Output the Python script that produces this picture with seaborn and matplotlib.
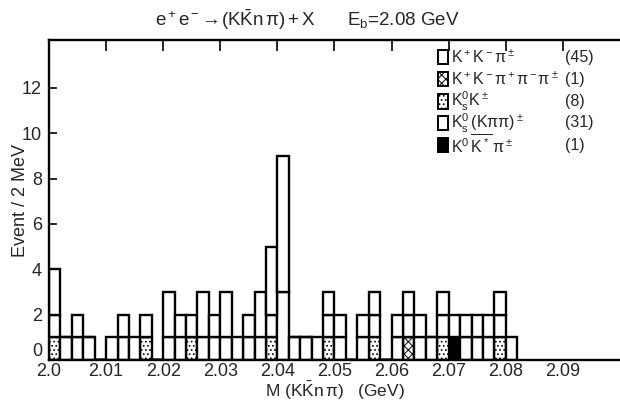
import numpy as np
import pandas as pd
import matplotlib
matplotlib.use('Agg')
import matplotlib.pyplot as plt
from matplotlib.patches import Rectangle
from matplotlib.colors import to_rgba
import seaborn as sns

# ─── Data (events per 2 MeV bin, bins start at 2.000 GeV) ─────────────────────
channels = ['kkpi', 'ks_kpipi', 'ks_k', 'kkpipipi', 'k0_k0star']
kkpi      = [2, 0, 1, 0, 0, 1, 1, 1, 1, 0, 2, 1, 1, 2, 1, 2, 1, 1, 2, 3, 6,
             0, 0, 1, 1, 1, 0, 1, 1, 0, 1, 1, 1, 0, 1, 1, 1, 1, 1, 1, 1]
ks_kpipi  = [1, 1, 1, 1, 0, 0, 1, 0, 0, 0, 1, 1, 0, 1, 1, 1, 0, 1, 1, 1, 3,
             1, 1, 0, 1, 1, 0, 1, 1, 0, 1, 1, 1, 1, 1, 0, 1, 1, 1, 1, 0]
ks_k      = [1, 0, 0, 0, 0, 0, 0, 0, 1, 0, 0, 0, 1, 0, 0, 0, 0, 0, 0, 1, 0,
             0, 0, 0, 1, 0, 0, 0, 1, 0, 0, 0, 0, 0, 1, 0, 0, 0, 0, 1, 0]
kkpipipi  = [0, 0, 0, 0, 0, 0, 0, 0, 0, 0, 0, 0, 0, 0, 0, 0, 0, 0, 0, 0, 0,
             0, 0, 0, 0, 0, 0, 0, 0, 0, 0, 1, 0, 0, 0, 0, 0, 0, 0, 0, 0]
k0_k0star = [0, 0, 0, 0, 0, 0, 0, 0, 0, 0, 0, 0, 0, 0, 0, 0, 0, 0, 0, 0, 0,
             0, 0, 0, 0, 0, 0, 0, 0, 0, 0, 0, 0, 0, 0, 1, 0, 0, 0, 0, 0]

legend_labels = [r'$K^+K^-\pi^\pm$',
                 r'$K^+K^-\pi^+\pi^-\pi^\pm$',
                 r'$K^0_sK^\pm$',
                 r'$K^0_s\,(K\pi\pi)^\pm$',
                 r'$K^0\,\overline{K^*}\,\pi^\pm$']
legend_counts = ['(45)', '(1)', '(8)', '(31)', '(1)']
legend_order = ['kkpi', 'kkpipipi', 'ks_k', 'ks_kpipi', 'k0_k0star']

xtick_vals = [2.00, 2.01, 2.02, 2.03, 2.04, 2.05, 2.06, 2.07, 2.08, 2.09]
xtick_labels = ['2.0', '2.01', '2.02', '2.03', '2.04', '2.05', '2.06', '2.07', '2.08', '2.09']
ytick_vals = [0, 2, 4, 6, 8, 10, 12]

# ─── Long table for seaborn ───────────────────────────────────────────────────
BIN = 0.002
series = {'kkpi': kkpi, 'ks_kpipi': ks_kpipi, 'ks_k': ks_k,
          'kkpipipi': kkpipipi, 'k0_k0star': k0_k0star}
rows = []
for ch in channels:
    for i, n in enumerate(series[ch]):
        rows.append({'mass': 2.0 + BIN * (i + 0.5), 'n': n, 'channel': ch})
df = pd.DataFrame(rows)

# ─── Style ────────────────────────────────────────────────────────────────────
sns.set_style('white')
plt.rcParams['font.family'] = ['Liberation Sans Narrow', 'Liberation Sans', 'DejaVu Sans']
plt.rcParams['mathtext.default'] = 'regular'
plt.rcParams['mathtext.fontset'] = 'custom'
plt.rcParams['mathtext.rm'] = 'Liberation Sans'
plt.rcParams['mathtext.it'] = 'Liberation Sans'
plt.rcParams['hatch.color'] = '0.25'
plt.rcParams['hatch.linewidth'] = 0.7

colors = {'kkpi': '#ffffff', 'ks_kpipi': '#fefefe', 'ks_k': '#fdfdfd',
          'kkpipipi': '#fcfcfc', 'k0_k0star': '#000000'}
hatches = {'kkpi': None, 'ks_kpipi': None, 'ks_k': '....',
           'kkpipipi': 'xxxx', 'k0_k0star': None}

fig = plt.figure(figsize=(6.2, 4.01), dpi=100)
ax = fig.add_axes([0.079, 0.102, 0.921, 0.798])

sns.histplot(data=df, x='mass', weights='n', hue='channel', hue_order=channels,
             multiple='stack', binwidth=BIN, binrange=(2.0, 2.0 + BIN * len(kkpi)),
             palette=colors, edgecolor='black', linewidth=1.7, alpha=1,
             legend=False, ax=ax)

# hatches by matching facecolour
for p in ax.patches:
    fc = p.get_facecolor()
    for ch in channels:
        if np.allclose(fc, to_rgba(colors[ch]), atol=1e-3) and hatches[ch]:
            p.set_hatch(hatches[ch])

ax.set_xlim(2.0, 2.1)
ax.set_ylim(0, 14.1)
ax.set_xticks(xtick_vals)
ax.set_xticklabels(xtick_labels, fontsize=13)
ax.set_yticks(ytick_vals)
ax.set_yticklabels([str(v) for v in ytick_vals], fontsize=13)
for lab in ax.get_yticklabels():
    if lab.get_text() == '0':
        lab.set_va('bottom')
ax.tick_params(axis='x', direction='in', top=True, bottom=False, length=8, width=1.4, pad=2)
ax.tick_params(axis='y', direction='in', left=True, length=6, width=1.4, pad=5)
for side in ['left', 'top', 'bottom']:
    ax.spines[side].set_linewidth(1.7)
    ax.spines[side].set_color('black')
ax.spines['right'].set_visible(False)

ax.set_xlabel(r'M $(K\bar{K}n\,\pi)$   (GeV)', fontsize=12.5)
ax.xaxis.set_label_coords(0.5, -0.095)
ax.xaxis.label.set_va('center')
ax.set_ylabel('Event / 2 MeV', fontsize=13)
ax.yaxis.set_label_coords(-0.05, 0.5)
ax.yaxis.label.set_va('center')
fig.text(0.38, 0.95, r'$e^+e^-\!\rightarrow\!(K\bar{K}n\,\pi)+X$', fontsize=13.5,
         ha='center', va='center')
fig.text(0.65, 0.95, r'$E_b$=2.08 GeV', fontsize=13.5, ha='center', va='center')

# ─── Legend ───────────────────────────────────────────────────────────────────
ys = [0.947, 0.877, 0.808, 0.741, 0.672]
for y, ch, lab, cnt in zip(ys, legend_order, legend_labels, legend_counts):
    sq = Rectangle((0.681, y - 0.022), 0.017, 0.044, transform=ax.transAxes,
                   facecolor=colors[ch], edgecolor='black', linewidth=1.4,
                   hatch=hatches[ch], clip_on=False)
    ax.add_patch(sq)
    ax.text(0.704, y, lab, transform=ax.transAxes, fontsize=11.5, va='center')
    ax.text(0.903, y, cnt, transform=ax.transAxes, fontsize=11.5, va='center')

plt.savefig('out.png', dpi=100)
plt.close()
